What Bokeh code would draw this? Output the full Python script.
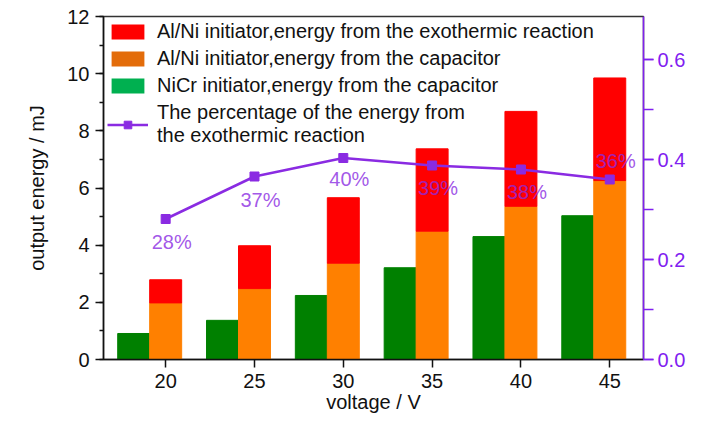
from bokeh.plotting import figure
from bokeh.models import (ColumnDataSource, Range1d, LinearAxis, SingleIntervalTicker,
                          FixedTicker, Legend, LegendItem, NumeralTickFormatter)
from bokeh.core.properties import value
from bokeh.transform import dodge
from bokeh.embed import file_html
from bokeh.resources import INLINE

# dados
voltagem = [20, 25, 30, 35, 40, 45]
nicr_cap = [0.91, 1.37, 2.24, 3.21, 4.30, 5.03]
alni_cap = [1.98, 2.48, 3.37, 4.49, 5.36, 6.26]
alni_exo = [0.81, 1.50, 2.29, 2.88, 3.32, 3.59]
percentual = [0.281, 0.366, 0.403, 0.388, 0.380, 0.360]

FONTE = "Liberation Sans"
ROXO = "#8a2be2"
ROXO_EIXO = "#8020f0"
PRETO = "#111111"

fonte = ColumnDataSource(data=dict(
    v=voltagem,
    nicr=nicr_cap,
    cap=alni_cap,
    total=[c + e for c, e in zip(alni_cap, alni_exo)],
    pct=percentual,
    rotulo=[f"{round(p * 100)}%" for p in percentual],
    desloc=[23, 23, 21, 22, 22, -19],
))

p = figure(width=727, height=424, output_backend="svg", toolbar_location=None,
           x_range=Range1d(16.5, 46.9), y_range=Range1d(0, 12),
           min_border_left=103, min_border_right=84, min_border_top=16, min_border_bottom=65)
p.extra_y_ranges = {"pct": Range1d(0, 0.686)}
p.grid.visible = False
p.outline_line_color = "#333333"
p.outline_line_width = 1.5

largura = 1.8
p.vbar(x=dodge("v", -largura, range=p.x_range), top="nicr", width=largura,
       color="#008000", source=fonte)
p.vbar(x="v", top="cap", width=largura, color="#ff8000", source=fonte)
p.vbar(x="v", bottom="cap", top="total", width=largura, color="#ff0000", source=fonte)

linha = p.line("v", "pct", y_range_name="pct", line_color=ROXO, line_width=2.5, source=fonte)
marca = p.scatter("v", "pct", y_range_name="pct", marker="square", size=9,
                  color=ROXO, source=fonte)
p.text("v", "pct", text="rotulo", y_range_name="pct", x_offset=6, y_offset="desloc",
       text_align="center", text_baseline="middle", text_font_size="20px",
       text_font=value(FONTE), text_color=ROXO, text_alpha=0.8, source=fonte)

# barras de tamanho zero só para a legenda (as cores da legenda diferem das barras)
leg_exo = p.vbar(x="v", top=0, width=0, fill_color="#ff0000", line_color=None, source=fonte)
leg_cap = p.vbar(x="v", top=0, width=0, fill_color="#e36c0a", line_color=None, source=fonte)
leg_nicr = p.vbar(x="v", top=0, width=0, fill_color="#00b050", line_color=None, source=fonte)

legenda = Legend(items=[
    LegendItem(label="Al/Ni initiator,energy from the exothermic reaction", renderers=[leg_exo]),
    LegendItem(label="Al/Ni initiator,energy from the capacitor", renderers=[leg_cap]),
    LegendItem(label="NiCr initiator,energy from the capacitor", renderers=[leg_nicr]),
    LegendItem(label="The percentage of the energy from\nthe exothermic reaction",
               renderers=[linha, marca]),
], location="top_left")
legenda.border_line_color = None
legenda.background_fill_alpha = 0
legenda.label_text_font = FONTE
legenda.label_text_font_size = "20px"
legenda.label_text_color = PRETO
legenda.glyph_width = 41
legenda.glyph_height = 19
legenda.label_height = 19
legenda.label_standoff = 9
legenda.spacing = 4
legenda.padding = 6
legenda.margin = 4
p.add_layout(legenda)

# eixo x
p.xaxis.ticker = FixedTicker(ticks=voltagem)
p.xaxis.axis_label = "voltage / V"
p.xaxis.minor_tick_line_color = None

# eixo y esquerdo
p.yaxis.ticker = SingleIntervalTicker(interval=2, num_minor_ticks=2)
p.yaxis.axis_label = "output energy / mJ"

# eixo y direito
eixo_pct = LinearAxis(y_range_name="pct", ticker=SingleIntervalTicker(interval=0.2, num_minor_ticks=2),
                      formatter=NumeralTickFormatter(format="0.0"))
p.add_layout(eixo_pct, "right")

for eixo in [p.xaxis[0], p.yaxis[0], eixo_pct]:
    eixo.axis_line_width = 1.5
    eixo.major_tick_line_width = 1.5
    eixo.minor_tick_line_width = 1.5
    eixo.major_tick_in = 0
    eixo.major_tick_out = 8
    eixo.minor_tick_in = 0
    eixo.minor_tick_out = 4
    eixo.major_label_text_font = FONTE
    eixo.major_label_text_font_size = "20px"
    eixo.axis_label_text_font = FONTE
    eixo.axis_label_text_font_size = "20px"
    eixo.axis_label_text_font_style = "normal"
    eixo.major_label_standoff = 6
    eixo.axis_label_standoff = 0
    eixo.axis_line_color = PRETO
    eixo.major_tick_line_color = PRETO
    eixo.major_label_text_color = PRETO
    eixo.axis_label_text_color = PRETO

p.yaxis[0].minor_tick_line_color = PRETO
p.yaxis[0].axis_label_standoff = 16
eixo_pct.axis_line_color = ROXO_EIXO
eixo_pct.major_tick_line_color = ROXO_EIXO
eixo_pct.minor_tick_line_color = ROXO_EIXO
eixo_pct.major_label_text_color = ROXO_EIXO
eixo_pct.major_tick_out = 10
eixo_pct.minor_tick_out = 10
eixo_pct.major_label_standoff = 4

open("out.html", "w").write(file_html(p, INLINE))
